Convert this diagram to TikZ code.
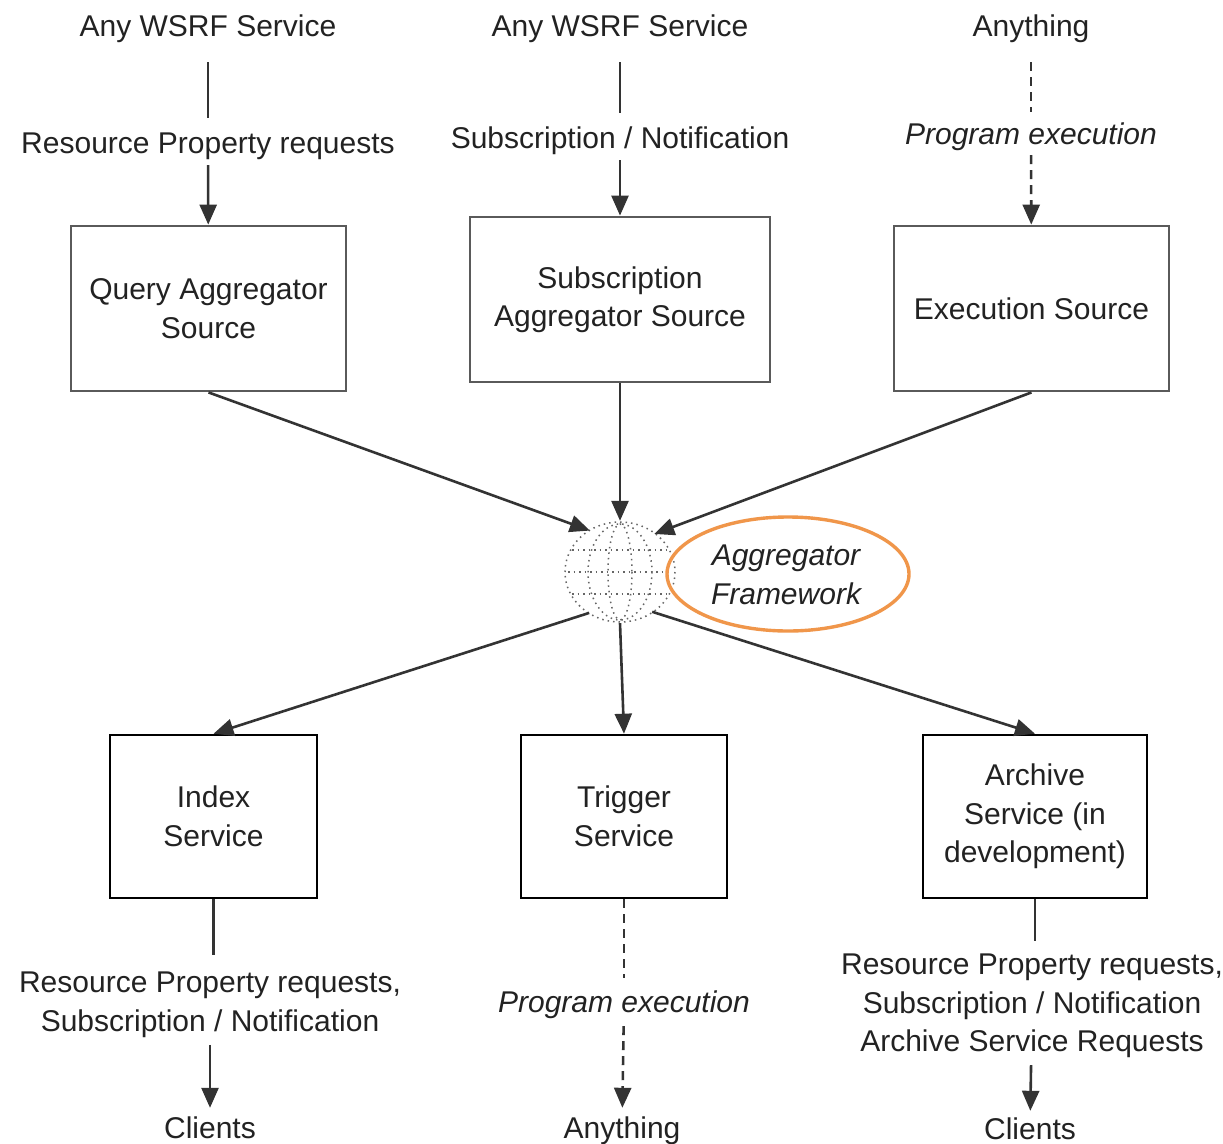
\documentclass[tikz,border=0pt]{standalone}
\usepackage{fontspec}
\setmainfont{Liberation Sans}
\usetikzlibrary{arrows.meta,shapes.geometric}
\definecolor{txt}{HTML}{222222}
\definecolor{boxgray}{HTML}{5A5A5A}
\definecolor{orng}{HTML}{F0964A}
\tikzset{
  lbl/.style={inner sep=0pt, text height=22pt, text depth=6pt, align=center, text=txt,
     font=\fontsize{30}{38.5}\selectfont},
  ilbl/.style={lbl, font=\fontsize{30}{38.5}\selectfont\itshape},
  mlbl/.style={inner sep=0pt, align=center, text=txt, font=\fontsize{30}{38.5}\selectfont},
  milbl/.style={mlbl, font=\fontsize{30}{38.5}\selectfont\itshape},
  topbox/.style={draw=boxgray, line width=2.8pt, rectangle, inner sep=0pt, align=center, text=txt,
     font=\fontsize{30}{38.5}\selectfont},
  botbox/.style={draw=black, line width=2.6pt, rectangle, inner sep=0pt, align=center, text=txt,
     font=\fontsize{30}{38.5}\selectfont},
  conn/.style={line width=2.6pt, draw=black!80},
  arr/.style={conn, -{Triangle[length=20pt,width=17pt]}},
  dconn/.style={conn, dash pattern=on 9pt off 6pt},
  darr/.style={arr, dash pattern=on 9pt off 6pt},
  globedot/.style={black!60, line width=1.5pt, dash pattern=on 1.5pt off 4pt},
}
\begin{document}
\begin{tikzpicture}[x=1pt,y=-1pt]
\useasboundingbox (0,0) rectangle (1223,1143);
\fill[white] (0,0) rectangle (1223,1143);

% top sources
\node[lbl] (t1) at (208,28) {Any WSRF Service};
\node[lbl] (t2) at (620,28) {Any WSRF Service};
\node[lbl] (t3) at (1031,28) {Anything};

\node[lbl] (l1) at (208,145) {Resource Property requests};
\node[lbl] (l2) at (620,140) {Subscription / Notification};
\node[ilbl] (l3) at (1031,136) {Program execution};

\node[topbox, minimum width=275pt, minimum height=165pt] (q) at (208.5,308.5)
  {Query Aggregator\\Source};
\node[topbox, minimum width=300pt, minimum height=165pt] (s) at (620,299.5)
  {Subscription\\Aggregator Source};
\node[topbox, minimum width=275pt, minimum height=165pt] (e) at (1031.5,308.5)
  {Execution Source};

\draw[conn, shorten <=20pt, shorten >=13pt] (t1) -- (l1);
\draw[arr, shorten <=6pt] (l1) -- (q);
\draw[conn, shorten <=20pt, shorten >=13pt] (t2) -- (l2);
\draw[arr, shorten <=6pt] (l2) -- (s);
\draw[dconn, shorten <=20pt, shorten >=10pt] (t3) -- (l3);
\draw[darr, shorten <=5pt] (l3) -- (e);

% globe
\node[circle, minimum size=102pt, inner sep=0pt] (g) at (620,572) {};
\draw[globedot] (g.center) ellipse (55 and 50);
\draw[globedot] (g.center) ellipse (32 and 48);
\draw[globedot] (g.center) ellipse (12 and 48);
\draw[globedot] (572,550) -- (668,550);
\draw[globedot] (568,572) -- (672,572);
\draw[globedot] (572,594) -- (668,594);

\draw[arr] (q.south) -- (g.126);
\draw[arr] (s.south) -- (g.north);
\draw[arr] (e.south) -- (g.48);

% aggregator framework label
\node[ellipse, draw=orng, line width=3.4pt, minimum width=242pt, minimum height=114pt,
      inner sep=0pt] (fw) at (788,574) {};
\node[milbl] (fwt) at (786,575) {Aggregator\\Framework};

% bottom services
\node[botbox, minimum width=207pt, minimum height=163pt] (ix) at (213.5,816.5)
  {Index\\Service};
\node[botbox, minimum width=206pt, minimum height=163pt] (tr) at (624,816.5)
  {Trigger\\Service};
\node[botbox, minimum width=224pt, minimum height=163pt] (ar) at (1035,816.5)
  {Archive\\Service (in\\development)};

\draw[arr] (g.233) -- (ix.north);
\draw[arr] (g.south) -- (tr.north);
\draw[arr] (g.309) -- (ar.north);

% outputs
\node[mlbl] (b1) at (210,1005) {Resource Property requests,\\Subscription / Notification};
\node[ilbl] (b2) at (624,1004) {Program execution};
\node[mlbl] (b3) at (1032,1006) {Resource Property requests,\\Subscription / Notification\\Archive Service Requests};

\node[lbl] (c1) at (210,1130) {Clients};
\node[lbl] (c2) at (622,1130) {Anything};
\node[lbl] (c3) at (1030,1131) {Clients};

\draw[conn, shorten >=17pt] (ix.south) -- (ix.south |- b1.north);
\draw[arr, shorten <=7pt, shorten >=8pt] (b1) -- (c1);
\draw[dconn, shorten >=12pt] (tr.south) -- (b2);
\draw[darr, shorten <=8pt, shorten >=8pt] (b2) -- (c2);
\draw[conn, shorten >=13pt] (ar.south) -- (ar.south |- b3.north);
\draw[arr, shorten <=7pt, shorten >=6pt] (b3) -- (c3);
\end{tikzpicture}
\end{document}
